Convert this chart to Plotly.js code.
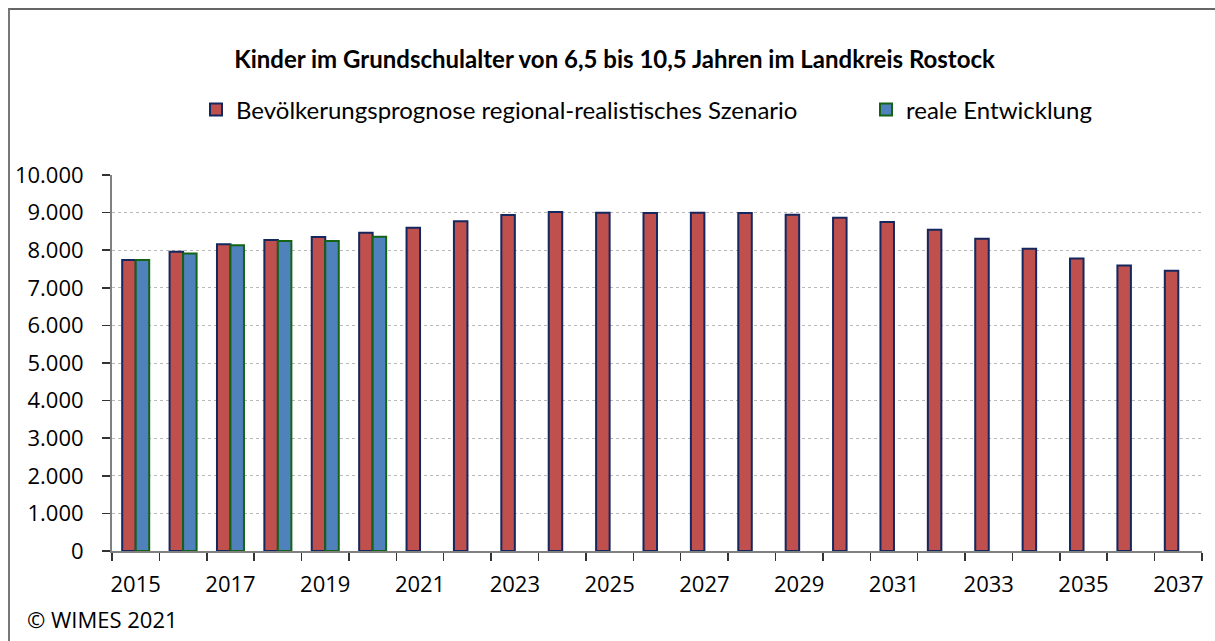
<!DOCTYPE html>
<html>
<head>
<meta charset="utf-8">
<script src="https://cdn.plot.ly/plotly-3.0.1.min.js"></script>
<style>
  html, body { margin: 0; padding: 0; background: #fff; }
  #wrap { position: relative; width: 1215px; height: 641px; overflow: hidden; }
  #chart { width: 1215px; height: 641px; }
  #frame { position: absolute; left: 8px; top: 8px; width: 1215px; height: 700px;
           border-left: 2px solid #777; border-top: 2px solid #666; pointer-events: none; }
</style>
</head>
<body>
<div id="wrap"><div id="chart"></div><div id="frame"></div></div>
<script>
const years = [2015,2016,2017,2018,2019,2020,2021,2022,2023,2024,2025,2026,2027,2028,2029,2030,2031,2032,2033,2034,2035,2036,2037];
const prognose = [7740,7960,8155,8270,8350,8465,8600,8770,8935,9015,8995,8990,8995,8990,8945,8865,8750,8545,8305,8040,7780,7590,7455];
const realYears = [2015,2016,2017,2018,2019,2020];
const real = [7740,7915,8130,8245,8245,8360];
const xTickVals = [2015,2017,2019,2021,2023,2025,2027,2029,2031,2033,2035,2037];
const xTickText = ['2015','2017','2019','2021','2023','2025','2027','2029','2031','2033','2035','2037'];
const yTickVals = [0,1000,2000,3000,4000,5000,6000,7000,8000,9000,10000];

const seriesNames = ['Bevölkerungsprognose regional-realistisches Szenario', 'reale Entwicklung'];
const titleText = '<b>Kinder im Grundschulalter von 6,5 bis 10,5 Jahren im Landkreis Rostock</b>';
const footerText = '© WIMES 2021';

const tickFont = {family: 'Open Sans, Noto Sans, sans-serif', size: 22, color: '#000'};
const legendFont = {family: 'Lato, sans-serif', size: 24, color: '#000'};

const traces = [
  {type: 'bar', name: seriesNames[0], x: years, y: prognose, legend: 'legend',
   marker: {color: '#C0504D', line: {color: '#14275E', width: 2}}},
  {type: 'bar', name: seriesNames[1], x: realYears, y: real, legend: 'legend2',
   marker: {color: '#4F81BD', line: {color: '#156415', width: 2}}}
];

const legendY = (551-110)/376;
const layout = {
  width: 1215, height: 641,
  margin: {l: 112, r: 13, t: 175, b: 90},
  paper_bgcolor: '#fff', plot_bgcolor: '#fff',
  separators: ',.',
  barmode: 'group', bargap: 0.43, bargroupgap: 0,
  showlegend: true,
  title: {text: titleText, font: {family: 'Lato, sans-serif', size: 24, color: '#000'},
          xref: 'container', x: 0.5058, yref: 'container', y: 1 - 60/641, yanchor: 'middle', xanchor: 'center'},
  legend: {orientation: 'h', xref: 'paper', x: (196-112)/1090, xanchor: 'left',
           yref: 'paper', y: legendY, yanchor: 'middle',
           font: legendFont, bgcolor: 'rgba(0,0,0,0)'},
  legend2: {orientation: 'h', xref: 'paper', x: (866-112)/1090, xanchor: 'left',
           yref: 'paper', y: legendY, yanchor: 'middle',
           font: legendFont, bgcolor: 'rgba(0,0,0,0)'},
  xaxis: {type: 'linear', range: [2014.5, 2037.5], fixedrange: true,
          tickmode: 'array', tickvals: xTickVals, ticktext: xTickText, ticks: '',
          ticklabelstandoff: 13,
          tickfont: tickFont, showgrid: false, zeroline: false,
          showline: true, linecolor: '#808080', linewidth: 2,
          minor: {tick0: 2014.5, dtick: 1, ticks: 'outside', ticklen: 8, tickwidth: 1.5, tickcolor: '#333', showgrid: false}},
  yaxis: {range: [0, 10000], fixedrange: true,
          tickmode: 'array', tickvals: yTickVals, tickformat: ',d',
          ticks: 'outside', ticklen: 8, tickwidth: 1.5, tickcolor: '#333',
          ticklabelstandoff: 14,
          tickfont: tickFont, showline: true, linecolor: '#808080', linewidth: 2,
          showgrid: true, gridcolor: '#b8b8b8', gridwidth: 1, griddash: 'dot', zeroline: false},
  annotations: [
    {text: footerText, xref: 'paper', yref: 'paper', x: (25-112)/1090, y: (551-619)/376,
     xanchor: 'left', yanchor: 'middle', showarrow: false, font: tickFont}
  ]
};

Plotly.newPlot('chart', traces, layout, {staticPlot: true, displayModeBar: false});
</script>
</body>
</html>
